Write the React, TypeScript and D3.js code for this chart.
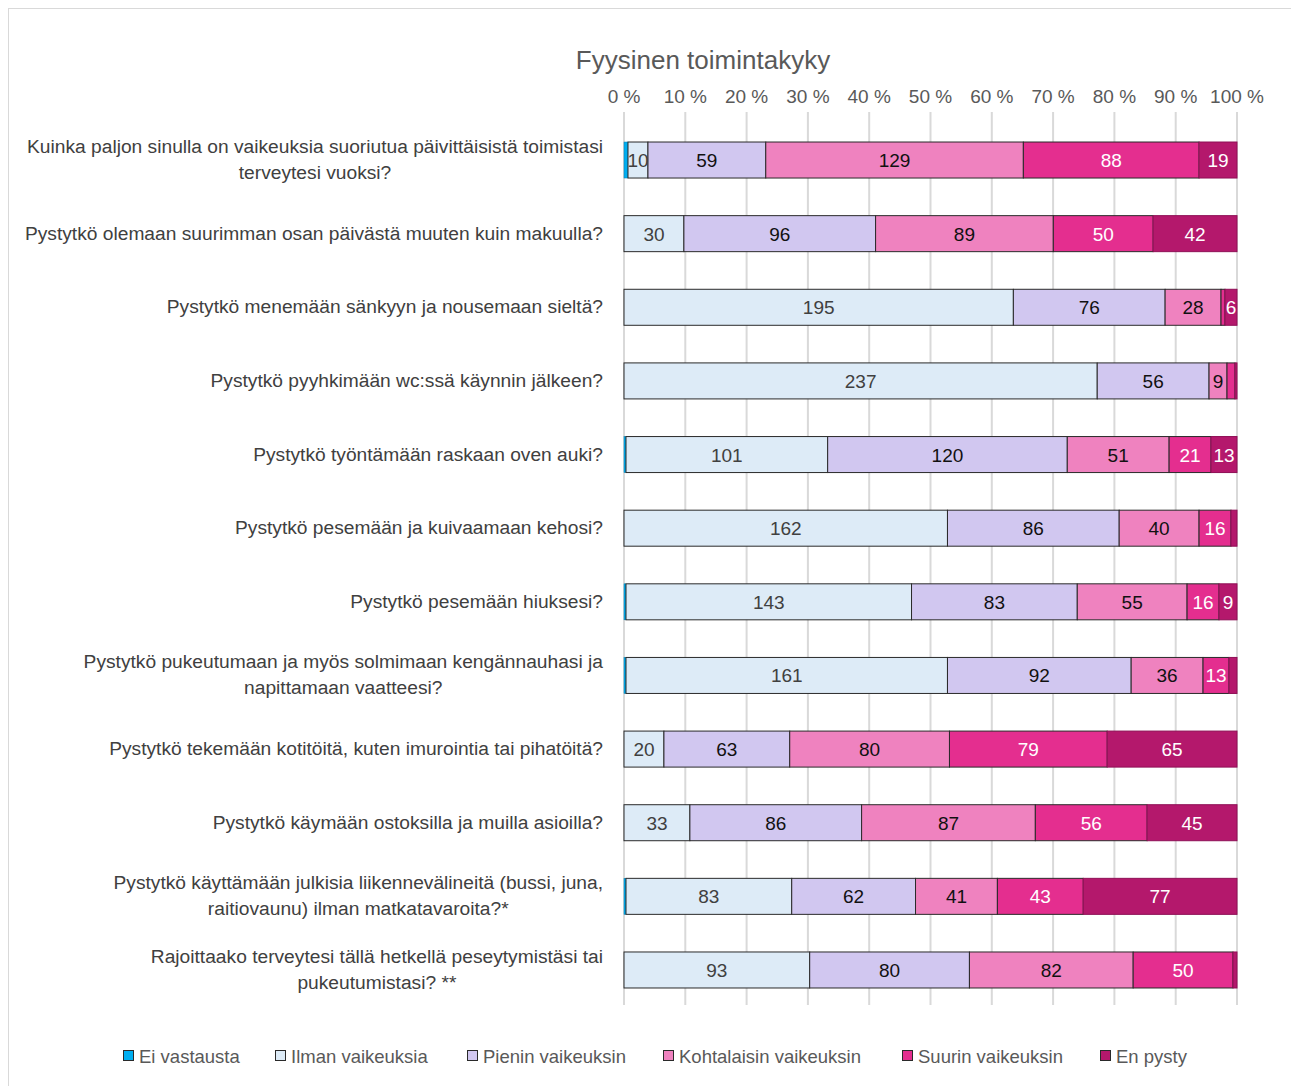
import React, { useEffect, useRef } from "react";
import * as d3 from "d3";

const title = "Fyysinen toimintakyky";
const seriesNames = ["Ei vastausta", "Ilman vaikeuksia", "Pienin vaikeuksin", "Kohtalaisin vaikeuksin", "Suurin vaikeuksin", "En pysty"];
const seriesColors = ["#00aef0", "#ddebf7", "#d1c7f0", "#ef82bf", "#e42e8f", "#b4186c"];
const labelColors = ["#404040", "#404040", "#111111", "#111111", "#ffffff", "#ffffff"];
const categories = [
  ["Kuinka paljon sinulla on vaikeuksia suoriutua päivittäisistä toimistasi", "terveytesi vuoksi?"],
  ["Pystytkö olemaan suurimman osan päivästä muuten kuin makuulla?"],
  ["Pystytkö menemään sänkyyn ja nousemaan sieltä?"],
  ["Pystytkö pyyhkimään wc:ssä käynnin jälkeen?"],
  ["Pystytkö työntämään raskaan oven auki?"],
  ["Pystytkö pesemään ja kuivaamaan kehosi?"],
  ["Pystytkö pesemään hiuksesi?"],
  ["Pystytkö pukeutumaan ja myös solmimaan kengännauhasi ja", "napittamaan vaatteesi?"],
  ["Pystytkö tekemään kotitöitä, kuten imurointia tai pihatöitä?"],
  ["Pystytkö käymään ostoksilla ja muilla asioilla?"],
  ["Pystytkö käyttämään julkisia liikennevälineitä (bussi, juna,", "raitiovaunu) ilman matkatavaroita?*"],
  ["Rajoittaako terveytesi tällä hetkellä peseytymistäsi tai", "pukeutumistasi? **"],
];
const eiVastausta = [2, 0, 0, 0, 1, 0, 1, 1, 0, 0, 1, 0];
const ilmanVaikeuksia = [10, 30, 195, 237, 101, 162, 143, 161, 20, 33, 83, 93];
const pieninVaikeuksin = [59, 96, 76, 56, 120, 86, 83, 92, 63, 86, 62, 80];
const kohtalaisinVaikeuksin = [129, 89, 28, 9, 51, 40, 55, 36, 80, 87, 41, 82];
const suurinVaikeuksin = [88, 50, 2, 4, 21, 16, 16, 13, 79, 56, 43, 50];
const enPysty = [19, 42, 6, 1, 13, 3, 9, 4, 65, 45, 77, 2];
const tickValues = [0, 0.1, 0.2, 0.3, 0.4, 0.5, 0.6, 0.7, 0.8, 0.9, 1.0];

export default function App() {
  const ref = useRef<SVGSVGElement>(null);
  useEffect(() => {
    document.body.style.margin = "0";
    const svg = d3.select(ref.current);
    svg.selectAll("*").remove();
    const series = [eiVastausta, ilmanVaikeuksia, pieninVaikeuksin, kohtalaisinVaikeuksin, suurinVaikeuksin, enPysty];
    const rows = categories.map((c, i) => {
      const o: any = { key: i };
      seriesNames.forEach((s, j) => (o[s] = series[j][i]));
      return o;
    });
    const stack = d3.stack().keys(seriesNames).offset(d3.stackOffsetExpand);
    const stacked = stack(rows);
    const x = d3.scaleLinear().domain([0, 1]).range([624, 1237]);
    const y = d3.scaleBand<number>().domain(d3.range(categories.length)).range([123.2, 1006.8]).paddingInner(0.511).paddingOuter(0.2555);

    svg.append("rect").attr("x", 8.5).attr("y", 8.5).attr("width", 1295).attr("height", 1095).attr("fill", "#fff").attr("stroke", "#d9d9d9");

    svg.append("text").attr("x", 703).attr("y", 69).attr("text-anchor", "middle").attr("font-family", "Liberation Sans, sans-serif").attr("font-size", 26).attr("fill", "#595959").text(title);

    const grid = svg.append("g");
    tickValues.forEach((t) => {
      grid.append("line").attr("x1", x(t)).attr("x2", x(t)).attr("y1", 112).attr("y2", 1005).attr("stroke", "#d9d9d9").attr("stroke-width", 2);
      grid.append("text").attr("x", x(t)).attr("y", 103).attr("text-anchor", "middle").attr("font-family", "Liberation Sans, sans-serif").attr("font-size", 19).attr("fill", "#595959").text(`${Math.round(t * 100)} %`);
    });

    const g = svg.append("g");
    stacked.forEach((layer, j) => {
      layer.forEach((d, i) => {
        const w = x(d[1]) - x(d[0]);
        if (w <= 0) return;
        g.append("rect").attr("x", x(d[0])).attr("y", y(i)!).attr("width", w).attr("height", y.bandwidth())
          .attr("fill", seriesColors[j]).attr("stroke", j === 5 ? "#8e0f55" : j === 0 ? "#0a7fb0" : "#2a2a2a").attr("stroke-width", j === 0 ? 0.5 : 1);
      });
    });
    stacked.forEach((layer, j) => {
      layer.forEach((d, i) => {
        const v = series[j][i];
        if (v < 5) return;
        g.append("text").attr("x", (x(d[0]) + x(d[1])) / 2).attr("y", y(i)! + y.bandwidth() / 2 + 7)
          .attr("text-anchor", "middle").attr("font-family", "Liberation Sans, sans-serif").attr("font-size", 19)
          .attr("fill", labelColors[j]).text(String(v));
      });
    });

    const lab = svg.append("g");
    categories.forEach((lines, i) => {
      const cy = y(i)! + y.bandwidth() / 2;
      const texts = lines.map((l, k) => lab.append("text").attr("y", cy + 6 + (k - (lines.length - 1) / 2) * 26)
        .attr("font-family", "Liberation Sans, sans-serif").attr("font-size", 19.2).attr("fill", "#404040").text(l));
      const widths = texts.map((t) => (t.node() as SVGTextElement).getComputedTextLength());
      const maxW = Math.max(...widths);
      texts.forEach((t) => t.attr("text-anchor", "middle").attr("x", 603 - maxW / 2));
    });

    const legendX = [123, 275, 467, 663, 902, 1100];
    const leg = svg.append("g");
    seriesNames.forEach((s, j) => {
      leg.append("rect").attr("x", legendX[j] + 0.5).attr("y", 1050.5).attr("width", 10).attr("height", 10).attr("fill", seriesColors[j]).attr("stroke", "#2a2a2a");
      leg.append("text").attr("x", legendX[j] + 16).attr("y", 1063).attr("font-family", "Liberation Sans, sans-serif").attr("font-size", 18.5).attr("fill", "#595959").text(s);
    });
  }, []);
  return <svg ref={ref} width={1291} height={1086} style={{ display: "block" }} />;
}
